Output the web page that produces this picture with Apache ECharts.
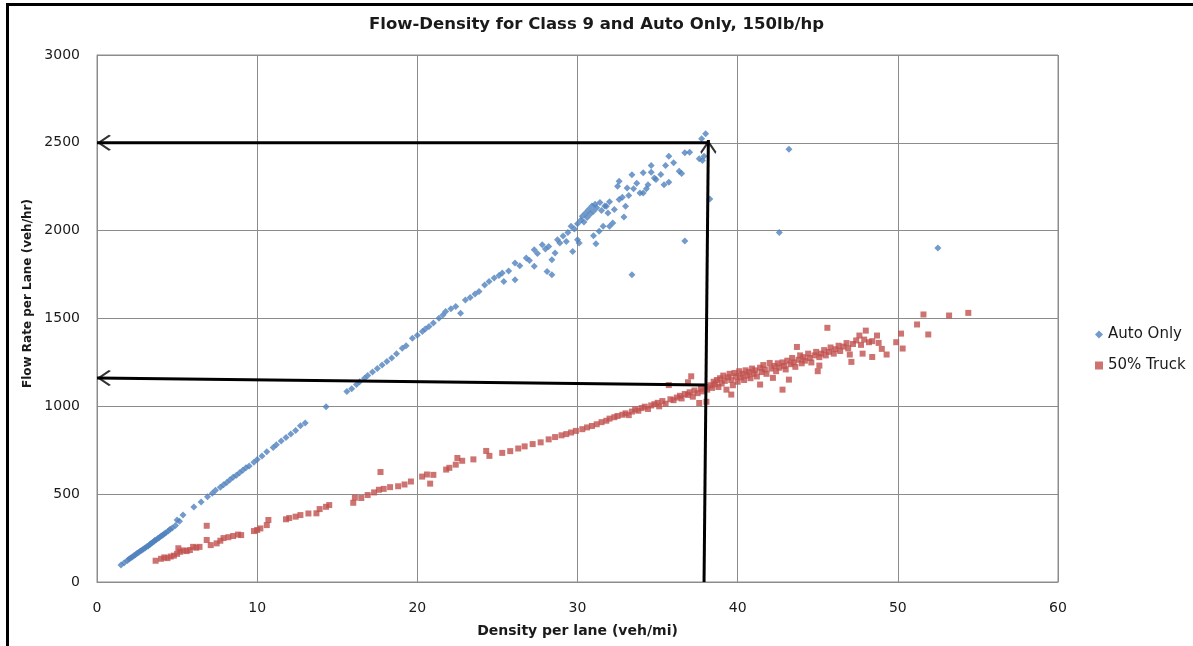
<!DOCTYPE html>
<html>
<head>
<meta charset="utf-8">
<title>Flow-Density for Class 9 and Auto Only, 150lb/hp</title>
<script src="https://cdn.jsdelivr.net/npm/echarts@6/dist/echarts.min.js"></script>
<style>
  html, body { margin: 0; padding: 0; background: #fff; }
  #wrap { position: relative; width: 1193px; height: 646px; overflow: hidden; }
  #chart { position: absolute; left: 0; top: 0; width: 1193px; height: 646px; }
  #frame { position: absolute; left: 6px; top: 3px; width: 1200px; height: 700px;
           border-left: 3px solid #000; border-top: 3px solid #000; pointer-events: none; }
</style>
</head>
<body>
<div id="wrap">
  <div id="chart"></div>
  <div id="frame"></div>
</div>
<script>
// Density (veh/mi per lane) vs flow (veh/hr per lane) observations
const autoOnly = [
  [1.5,97],[1.7,110],[1.9,122],[2.0,131],[2.1,137],[2.2,142],[2.3,150],[2.4,155],[2.5,163],[2.6,168],
  [2.7,176],[2.8,181],[2.9,188],[3.0,193],[3.1,201],[3.2,205],[3.3,214],[3.35,218],[3.45,224],[3.55,230],
  [3.6,236],[3.7,241],[3.8,248],[3.9,254],[4.0,262],[4.1,266],[4.2,274],[4.3,280],[4.45,290],[4.56,300],
  [4.7,307],[4.9,322],[5.0,353],[5.15,346],[5.37,381],[6.05,427],
  [6.5,455],[6.9,485],[7.2,505],[7.4,522],[7.7,540],[7.9,553],[8.1,566],[8.3,582],[8.5,596],[8.7,607],
  [8.9,622],[9.1,636],[9.3,650],[9.5,661],[9.8,682],[10.0,697],[10.3,717],[10.6,742],[11.0,765],[11.2,782],
  [11.5,803],[11.8,822],[12.1,843],[12.4,863],[12.7,890],[13.0,905],[14.3,998],
  [15.6,1085],[15.9,1100],[16.2,1125],[16.4,1140],[16.7,1160],[16.9,1175],[17.2,1195],[17.5,1215],
  [17.8,1235],[18.1,1255],[18.4,1275],[18.7,1300],[19.06,1331],[19.3,1345],[19.69,1388],[20.0,1405],
  [20.31,1426],[20.5,1440],[20.73,1454],[21.0,1475],[21.35,1502],[21.6,1520],[21.77,1540],[22.1,1555],
  [22.4,1568],[22.7,1530],[23.0,1606],[23.3,1620],[23.6,1640],[23.85,1654],[24.2,1690],[24.48,1711],
  [24.8,1730],[25.1,1745],[25.3,1759],[25.4,1711],[25.7,1770],[26.1,1720],[26.1,1816],[26.4,1800],
  [26.8,1844],[27.0,1830],[27.3,1892],[27.3,1797],[27.5,1870],[27.8,1920],[28.0,1895],[28.1,1768],
  [28.2,1910],[28.4,1749],[28.4,1835],[28.6,1873],[28.75,1949],[28.9,1930],[29.1,1970],[29.3,1939],
  [29.4,1990],[29.6,2025],[29.7,1882],[29.8,2010],[30.0,1949],[30.0,2040],[30.1,1930],[30.2,2060],
  [30.3,2082],[30.4,2050],[30.5,2100],[30.6,2075],[30.7,2120],[30.8,2095],[30.9,2140],[31.0,1971],
  [31.0,2110],[31.1,2150],[31.15,1926],[31.2,2130],[31.35,1996],[31.4,2160],[31.5,2115],[31.6,2025],
  [31.7,2140],[31.8,2139],[31.9,2100],[32.0,2025],[32.0,2165],[32.2,2044],[32.3,2120],[32.5,2253],
  [32.6,2177],[32.6,2281],[32.8,2190],[32.9,2078],[33.0,2139],[33.1,2243],[33.2,2200],[33.4,2319],
  [33.4,1749],[33.5,2238],[33.7,2270],[33.9,2215],[34.1,2215],[34.1,2329],[34.3,2238],[34.4,2262],
  [34.6,2333],[34.6,2371],[34.8,2300],[34.9,2291],[35.2,2320],[35.4,2262],[35.5,2371],[35.7,2276],
  [35.7,2424],[36.0,2386],[36.35,2338],[36.5,2325],[36.7,2443],[36.7,1941],[37.0,2447],[37.6,2409],
  [37.75,2523],[37.8,2400],[37.9,2424],[38.0,2551],[38.26,2180],[42.6,1990],[43.2,2464],[52.5,1901]
];

const truck50 = [
  [3.66,121],[4.0,132],[4.2,140],[4.4,136],[4.6,145],[4.8,150],[5.0,160],[5.08,192],[5.2,172],[5.4,180],
  [5.6,176],[5.8,182],[6.0,200],[6.2,195],[6.4,200],[6.85,239],[6.85,320],[7.1,210],[7.47,220],[7.7,235],
  [7.9,250],[8.2,255],[8.5,262],[8.8,270],[9.0,267],[9.8,290],[10.0,296],[10.2,305],[10.6,324],[10.7,353],
  [11.8,357],[12.0,364],[12.4,372],[12.7,381],[13.2,390],[13.7,391],[13.9,415],[14.3,428],[14.5,438],
  [16.0,451],[16.1,480],[16.5,478],[16.9,495],[17.3,510],[17.7,626],[17.6,525],[17.9,530],[18.3,540],
  [18.8,545],[19.2,555],[19.6,572],[20.3,600],[20.6,612],[20.8,560],[21.0,610],[21.8,640],[22.0,650],
  [22.4,668],[22.5,706],[22.8,690],[23.5,698],[24.3,746],[24.5,718],[25.3,735],[25.8,745],[26.3,760],
  [26.7,772],[27.2,785],[27.7,795],[28.2,812],[28.6,825],[29.0,835],[29.3,842],[29.6,851],[29.9,860],
  [30.3,870],[30.6,880],[30.9,888],[31.2,898],[31.5,910],[31.8,918],[32.0,930],[32.3,938],[32.5,945],
  [32.8,952],[33.0,960],[33.2,950],[33.4,970],[33.6,982],[33.8,975],[34.0,990],[34.2,998],[34.4,985],
  [34.6,1005],[34.8,1012],[35.0,1020],[35.1,1000],[35.3,1030],[35.5,1015],[35.7,1121],[35.8,1040],
  [36.0,1035],[36.2,1050],[36.4,1060],[36.5,1045],[36.7,1070],[36.9,1065],[36.9,1137],[37.0,1080],
  [37.1,1171],[37.2,1055],[37.3,1090],[37.5,1075],[37.6,1019],[37.7,1100],[37.8,1085],[38.0,1110],
  [38.05,1026],[38.1,1095],[38.3,1120],[38.4,1105],[38.5,1140],[38.6,1125],[38.7,1150],[38.8,1110],
  [38.9,1160],[39.0,1130],[39.1,1175],[39.2,1145],[39.3,1095],[39.4,1165],[39.5,1185],[39.6,1067],
  [39.6,1150],[39.7,1120],[39.8,1190],[39.9,1170],[40.0,1140],[40.1,1200],[40.2,1165],[40.3,1185],
  [40.4,1150],[40.5,1205],[40.6,1175],[40.7,1195],[40.8,1160],[40.9,1215],[41.0,1185],[41.1,1205],
  [41.2,1170],[41.4,1124],[41.4,1220],[41.5,1195],[41.6,1235],[41.7,1210],[41.8,1185],[42.0,1247],
  [42.1,1215],[42.2,1162],[42.3,1230],[42.4,1200],[42.5,1245],[42.6,1220],[42.8,1095],[42.8,1250],
  [42.9,1230],[43.0,1210],[43.1,1260],[43.2,1152],[43.3,1240],[43.4,1275],[43.5,1250],[43.6,1225],
  [43.7,1338],[43.8,1265],[43.9,1290],[44.0,1245],[44.1,1280],[44.2,1260],[44.4,1300],[44.5,1275],
  [44.6,1250],[44.8,1290],[44.9,1310],[45.0,1200],[45.1,1232],[45.1,1280],[45.2,1300],[45.4,1320],
  [45.5,1290],[45.6,1447],[45.7,1310],[45.8,1335],[46.0,1300],[46.1,1325],[46.3,1345],[46.4,1315],
  [46.6,1340],[46.8,1360],[46.9,1330],[47.0,1295],[47.1,1253],[47.2,1355],[47.4,1375],[47.6,1403],
  [47.7,1350],[47.8,1300],[47.9,1380],[48.0,1431],[48.2,1365],[48.4,1371],[48.4,1281],[48.7,1403],
  [48.8,1361],[49.0,1327],[49.3,1295],[49.9,1365],[50.2,1414],[50.3,1329],[51.2,1466],[51.6,1523],
  [51.9,1409],[53.2,1517],[54.4,1532]
];

// Guide arrows in data units: tail x, tail y, head x, head y, head direction (deg, counter-clockwise from up)
const guideTailX = [38.1, 37.9, 38.05];
const guideTailY = [2500, 0, 1121];
const guideHeadX = [0, 38.17, 0];
const guideHeadY = [2500, 2516, 1161];
const guideHeadAngles = [90, 0, 90];

const xTicks = { min: 0, max: 60, interval: 10 };
const yTicks = { min: 0, max: 3000, interval: 500 };

const FONT = 'DejaVu Sans';
const GRID_COLOR = '#8c8c8c';
const SHAFT_HALF_WIDTH = 1.5;
// open chevron pointing up; an invisible point above keeps the tip at the symbol centre
const CHEVRON = 'path://M50,0 L50.01,0 L50,0.01 Z M50,50 L100,92 L94,100 L50,63 L6,100 L0,92 Z';

// shafts: each one is a thin filled band from tail to head
const shaftSeries = {
  name: 'guideShafts',
  type: 'custom',
  silent: true,
  z: 5,
  data: guideTailX.map((x, i) => [x, guideTailY[i], guideHeadX[i], guideHeadY[i]]),
  renderItem: (params, api) => {
    const a = api.coord([api.value(0), api.value(1)]);
    const b = api.coord([api.value(2), api.value(3)]);
    const dx = b[0] - a[0], dy = b[1] - a[1];
    const len = Math.hypot(dx, dy) || 1;
    const nx = -dy / len * SHAFT_HALF_WIDTH, ny = dx / len * SHAFT_HALF_WIDTH;
    return {
      type: 'polygon',
      shape: { points: [
        [a[0] + nx, a[1] + ny], [b[0] + nx, b[1] + ny],
        [b[0] - nx, b[1] - ny], [a[0] - nx, a[1] - ny]
      ] },
      style: { fill: '#000000', stroke: null }
    };
  }
};

const headSeries = {
  name: 'guideHeads',
  type: 'scatter',
  data: guideHeadX.map((x, i) => ({ value: [x, guideHeadY[i]], symbolRotate: guideHeadAngles[i] })),
  symbol: CHEVRON,
  symbolSize: [16, 28],
  clip: false,
  silent: true,
  itemStyle: { color: '#000000' },
  z: 6
};

const chart = echarts.init(document.getElementById('chart'), null, { renderer: 'canvas' });

chart.setOption({
  animation: false,
  backgroundColor: '#ffffff',
  title: {
    text: 'Flow-Density for Class 9 and Auto Only, 150lb/hp',
    left: 'center',
    top: 11,
    textStyle: { fontFamily: FONT, fontWeight: 'bold', fontSize: 16.5, color: '#1a1a1a' }
  },
  grid: {
    left: 97, right: 135, top: 55, bottom: 64,
    show: true, borderColor: GRID_COLOR, borderWidth: 1
  },
  legend: {
    orient: 'vertical',
    left: 1090,
    top: 322,
    itemGap: 16,
    itemWidth: 8,
    itemHeight: 8,
    textStyle: { fontFamily: FONT, fontSize: 15, color: '#1a1a1a' },
    data: [
      { name: 'Auto Only', icon: 'diamond' },
      { name: '50% Truck', icon: 'rect' }
    ]
  },
  xAxis: {
    type: 'value',
    min: xTicks.min, max: xTicks.max, interval: xTicks.interval,
    name: 'Density per lane (veh/mi)',
    nameLocation: 'middle',
    nameGap: 42,
    nameTextStyle: { fontFamily: FONT, fontWeight: 'bold', fontSize: 14, color: '#1a1a1a' },
    axisLine: { show: true, lineStyle: { color: GRID_COLOR, width: 1 } },
    axisTick: { show: false },
    axisLabel: { margin: 19, fontFamily: FONT, fontSize: 14, color: '#1a1a1a' },
    splitLine: { show: true, lineStyle: { color: GRID_COLOR, width: 1 } }
  },
  yAxis: {
    type: 'value',
    min: yTicks.min, max: yTicks.max, interval: yTicks.interval,
    name: 'Flow Rate per Lane (veh/hr)',
    nameLocation: 'middle',
    nameGap: 55,
    nameTextStyle: { fontFamily: FONT, fontWeight: 'bold', fontSize: 12, color: '#1a1a1a', padding: [0, 0, 0, 50] },
    axisLine: { show: true, lineStyle: { color: GRID_COLOR, width: 1 } },
    axisTick: { show: false },
    axisLabel: { margin: 17, fontFamily: FONT, fontSize: 14, color: '#1a1a1a', formatter: v => String(v) },
    splitLine: { show: true, lineStyle: { color: GRID_COLOR, width: 1 } }
  },
  series: [
    {
      name: 'Auto Only',
      type: 'scatter',
      symbol: 'diamond',
      symbolSize: 7,
      itemStyle: { color: '#4f81bd' },
      data: autoOnly,
      z: 2
    },
    {
      name: '50% Truck',
      type: 'scatter',
      symbol: 'rect',
      symbolSize: 6,
      itemStyle: { color: '#c0504d' },
      data: truck50,
      z: 3
    },
    shaftSeries,
    headSeries
  ]
});
</script>
</body>
</html>
